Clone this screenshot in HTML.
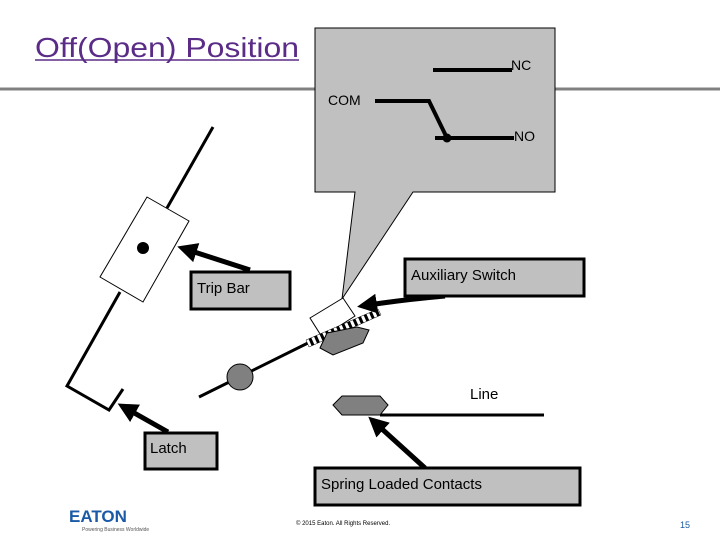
<!DOCTYPE html>
<html><head><meta charset="utf-8"><style>
body{margin:0;width:720px;height:540px;overflow:hidden;background:#fff}
svg{display:block}
text{font-family:"Liberation Sans",sans-serif}
</style></head><body>
<svg width="720" height="540" viewBox="0 0 720 540" xmlns="http://www.w3.org/2000/svg">
<defs>
<marker id="ah" markerWidth="4" markerHeight="4" refX="3" refY="2" orient="auto" markerUnits="strokeWidth">
<path d="M0,0 L4,2 L0,4 z" fill="#000"/></marker>
<pattern id="st" width="6" height="6" patternUnits="userSpaceOnUse" patternTransform="rotate(-24)">
<rect width="6" height="6" fill="#fff"/><rect width="3" height="6" fill="#000"/></pattern>
</defs>
<line x1="0" y1="89" x2="720" y2="89" stroke="#808080" stroke-width="3"/>
<text x="35" y="57" font-size="28" fill="#5b2c87" textLength="264" lengthAdjust="spacingAndGlyphs">Off(Open) Position</text>
<line x1="35" y1="60" x2="299" y2="60" stroke="#5b2c87" stroke-width="1.5"/>
<!-- callout -->
<path d="M315,28 H555 V192 H413 L342,299 L355,192 H315 Z" fill="#c0c0c0" stroke="#000" stroke-width="1"/>
<line x1="433" y1="70" x2="512" y2="70" stroke="#000" stroke-width="4"/>
<text x="511" y="70" font-size="14" fill="#000">NC</text>
<text x="328" y="105" font-size="14" fill="#000">COM</text>
<polyline points="375,101 429,101 447,138" fill="none" stroke="#000" stroke-width="4"/>
<line x1="435" y1="138" x2="514" y2="138" stroke="#000" stroke-width="4"/>
<circle cx="447" cy="138" r="4.5" fill="#000"/>
<text x="514" y="141" font-size="14" fill="#000">NO</text>
<!-- left mechanism -->
<line x1="213" y1="127" x2="167" y2="208" stroke="#000" stroke-width="3"/>
<polygon points="147,197 189,221 143,302 100,277" fill="#fff" stroke="#000" stroke-width="1"/>
<circle cx="143" cy="248" r="6" fill="#000"/>
<polyline points="120,292 67,386 109,410 123,389" fill="none" stroke="#000" stroke-width="3"/>
<!-- Trip bar -->
<line x1="250" y1="270" x2="182" y2="248" stroke="#000" stroke-width="5" marker-end="url(#ah)"/>
<rect x="191" y="272" width="99" height="37" fill="#c0c0c0" stroke="#000" stroke-width="3"/>
<text x="197" y="293" font-size="15" fill="#000">Trip Bar</text>
<!-- Latch -->
<line x1="168" y1="432" x2="122" y2="406" stroke="#000" stroke-width="5" marker-end="url(#ah)"/>
<rect x="145" y="433" width="72" height="36" fill="#c0c0c0" stroke="#000" stroke-width="3"/>
<text x="150" y="453" font-size="15" fill="#000">Latch</text>
<!-- handle -->
<line x1="199" y1="397" x2="314" y2="340" stroke="#000" stroke-width="3"/>
<circle cx="240" cy="377" r="13" fill="#808080" stroke="#000" stroke-width="1"/>
<polygon points="310,318 343,298 355,316 322,337" fill="#fff" stroke="#000" stroke-width="1"/>
<polygon points="306,340 378,309 381,315 309,347" fill="url(#st)" stroke="#000" stroke-width="0.5"/>
<polygon points="320,348 327,333 357,327 369,330 363,343 333,355" fill="#808080" stroke="#000" stroke-width="1"/>
<!-- Aux -->
<path d="M445,296 Q400,300 362,306" fill="none" stroke="#000" stroke-width="5" marker-end="url(#ah)"/>
<rect x="405" y="259" width="179" height="37" fill="#c0c0c0" stroke="#000" stroke-width="3"/>
<text x="411" y="280" font-size="15" fill="#000">Auxiliary Switch</text>
<!-- Line -->
<line x1="380" y1="415" x2="544" y2="415" stroke="#000" stroke-width="3"/>
<polygon points="333,405 342,396 380,396 388,405 380,415 342,415" fill="#808080" stroke="#000" stroke-width="1"/>
<text x="470" y="399" font-size="15" fill="#000">Line</text>
<!-- Spring -->
<line x1="425" y1="468" x2="372" y2="420" stroke="#000" stroke-width="5" marker-end="url(#ah)"/>
<rect x="315" y="468" width="265" height="37" fill="#c0c0c0" stroke="#000" stroke-width="3"/>
<text x="321" y="489" font-size="15" fill="#000">Spring Loaded Contacts</text>
<!-- footer -->
<text x="69" y="522" font-size="17" font-weight="bold" fill="#1a5aa6">EATON</text>
<text x="82" y="531" font-size="5" fill="#555">Powering Business Worldwide</text>
<text x="296" y="525" font-size="6" fill="#000">© 2015 Eaton. All Rights Reserved.</text>
<text x="680" y="528" font-size="9" fill="#1a5aa6">15</text>
</svg>
</body></html>
